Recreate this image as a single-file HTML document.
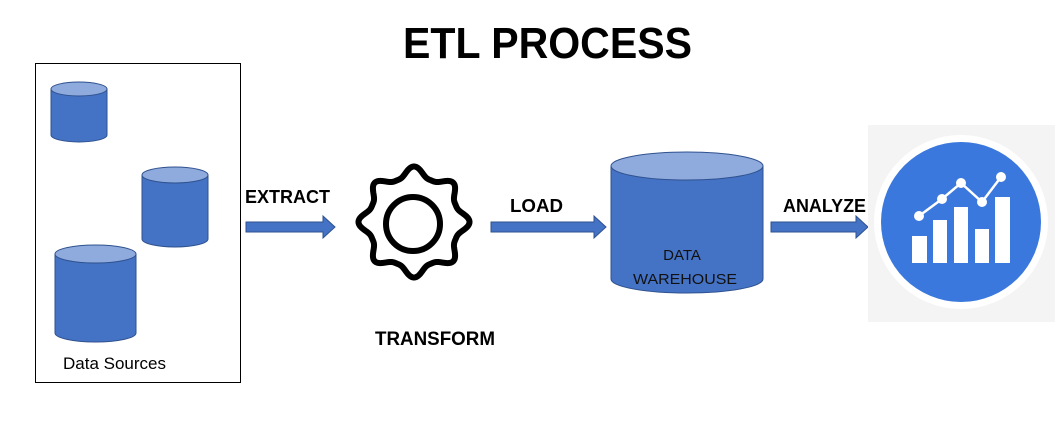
<!DOCTYPE html>
<html><head><meta charset="utf-8"><style>
html,body{margin:0;padding:0;background:#fff;}
svg{display:block;}
text{font-family:"Liberation Sans",sans-serif;}
</style></head><body>
<svg id="s" width="1057" height="423" viewBox="0 0 1057 423" xmlns="http://www.w3.org/2000/svg">
<rect width="1057" height="423" fill="#fff"/>
<text x="403" y="58" font-size="44" font-weight="bold" textLength="289" lengthAdjust="spacingAndGlyphs" fill="#000">ETL PROCESS</text>
<rect x="35.5" y="63.5" width="205" height="319" fill="none" stroke="#000" stroke-width="1"/>
<g fill="#4472c4" stroke="#2f528f" stroke-width="1">
 <path d="M51 89 V135 A28 7 0 0 0 107 135 V89 Z"/>
 <ellipse cx="79" cy="89" rx="28" ry="7" fill="#8faadc"/>
 <path d="M142 175 V239 A33 8 0 0 0 208 239 V175 Z"/>
 <ellipse cx="175" cy="175" rx="33" ry="8" fill="#8faadc"/>
 <path d="M55 254 V333 A40.5 9 0 0 0 136 333 V254 Z"/>
 <ellipse cx="95.5" cy="254" rx="40.5" ry="9" fill="#8faadc"/>
 <path d="M611 166 V279 A76 14 0 0 0 763 279 V166 Z"/>
 <ellipse cx="687" cy="166" rx="76" ry="14" fill="#8faadc"/>
</g>
<text x="63" y="369" font-size="17" fill="#000">Data Sources</text>
<text x="682" y="260" font-size="15" fill="#111" text-anchor="middle">DATA</text>
<text x="685" y="284" font-size="15" fill="#111" text-anchor="middle" textLength="104" lengthAdjust="spacingAndGlyphs">WAREHOUSE</text>
<g fill="#4472c4" stroke="#2f528f" stroke-width="1">
 <path d="M246 222 H323 V216 L335 227 L323 238 V232 H246 Z"/>
 <path d="M491 222 H594 V216 L606 227 L594 238 V232 H491 Z"/>
 <path d="M771 222 H856 V216 L868 227 L856 238 V232 H771 Z"/>
</g>
<g font-size="18" font-weight="bold" fill="#000">
 <text x="245" y="203" textLength="85" lengthAdjust="spacingAndGlyphs">EXTRACT</text>
 <text x="510" y="212" textLength="53" lengthAdjust="spacingAndGlyphs">LOAD</text>
 <text x="783" y="212" textLength="83" lengthAdjust="spacingAndGlyphs">ANALYZE</text>
 <text x="375" y="345" font-size="19" textLength="120" lengthAdjust="spacingAndGlyphs">TRANSFORM</text>
</g>
<path id="gear" fill="none" stroke="#000" stroke-width="6" stroke-linejoin="round" d=""/>
<circle cx="413" cy="224" r="27" fill="none" stroke="#000" stroke-width="6"/>
<rect x="868" y="125" width="187" height="197" fill="#f4f4f4"/>
<circle cx="961" cy="222" r="87" fill="#fff"/>
<circle cx="961" cy="222" r="80" fill="#3a78dd"/>
<g fill="#fff">
 <rect x="912" y="236" width="15" height="27"/>
 <rect x="933" y="220" width="14" height="43"/>
 <rect x="954" y="207" width="14" height="56"/>
 <rect x="975" y="229" width="14" height="34"/>
 <rect x="995" y="197" width="15" height="66"/>
 <polyline points="919,216 942,199 961,183 982,202 1001,177" fill="none" stroke="#fff" stroke-width="2.5"/>
 <circle cx="919" cy="216" r="5"/><circle cx="942" cy="199" r="5"/><circle cx="961" cy="183" r="5"/><circle cx="982" cy="202" r="5"/><circle cx="1001" cy="177" r="5"/>
</g>
</svg>
<script>
(function(){
var cx=414,cy=222,d="";
for(var i=0;i<=1440;i++){
 var t=i/1440*2*Math.PI;
 var c=0.5+0.5*Math.cos(8*t);
 var b=Math.pow(c,1.6);
 var r=45+10.5*b;
 var x=cx+r*Math.sin(t), y=cy-r*Math.cos(t);
 d+=(i?"L":"M")+x.toFixed(2)+" "+y.toFixed(2);
}
document.getElementById("gear").setAttribute("d",d+"Z");
})();
</script>
</body></html>
